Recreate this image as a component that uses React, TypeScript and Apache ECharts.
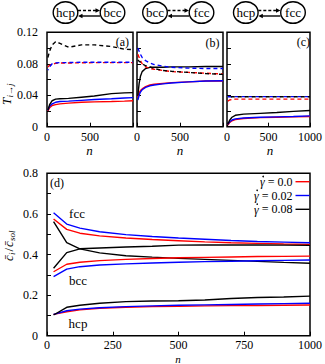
import React, { useEffect, useRef } from "react";
import * as echarts from "echarts";

const RED = "#ff0000";
const BLUE = "#0000ff";
const BLACK = "#000000";
const FONT = "Liberation Serif";

// ---------- panel (a): hcp <-> bcc ----------
const nA = [10, 30, 60, 100, 150, 250, 400, 550, 750, 900, 1000];
const aBlackDash = [0.088, 0.096, 0.104, 0.108, 0.106, 0.101, 0.104, 0.104, 0.102, 0.0985, 0.098];
const aBlueDash = [0.072, 0.076, 0.08, 0.081, 0.0815, 0.0815, 0.082, 0.082, 0.082, 0.082, 0.082];
const aRedDash = [0.076, 0.078, 0.0795, 0.0805, 0.081, 0.081, 0.0812, 0.0815, 0.0815, 0.0815, 0.0815];
const aBlack = [0.021, 0.028, 0.033, 0.035, 0.0355, 0.036, 0.0375, 0.039, 0.042, 0.043, 0.0433];
const aBlue = [0.021, 0.026, 0.029, 0.031, 0.032, 0.0325, 0.0335, 0.0345, 0.0355, 0.0365, 0.037];
const aRed = [0.02, 0.024, 0.027, 0.028, 0.029, 0.03, 0.031, 0.0315, 0.032, 0.0325, 0.033];

// ---------- panel (b): bcc <-> fcc ----------
const nB = [10, 25, 40, 60, 100, 150, 200, 300, 400, 600, 800, 1000];
const bBlueDash = [0.1, 0.096, 0.092, 0.088, 0.084, 0.081, 0.079, 0.077, 0.0755, 0.0745, 0.074, 0.074];
const bRedDash = [0.092, 0.088, 0.084, 0.08, 0.076, 0.074, 0.073, 0.0715, 0.07, 0.069, 0.068, 0.067];
const bBlackDash = [0.085, 0.083, 0.082, 0.08, 0.0775, 0.076, 0.074, 0.0715, 0.0705, 0.069, 0.0675, 0.0665];
const bBlack = [0.04, 0.055, 0.064, 0.07, 0.074, 0.0755, 0.0755, 0.0755, 0.076, 0.076, 0.0765, 0.0765];
const bBlue = [0.034, 0.04, 0.044, 0.047, 0.05, 0.052, 0.053, 0.0545, 0.0555, 0.057, 0.058, 0.0585];
const bRed = [0.037, 0.043, 0.046, 0.048, 0.051, 0.053, 0.054, 0.055, 0.056, 0.057, 0.058, 0.058];

// ---------- panel (c): hcp <-> fcc ----------
const nC = [10, 30, 60, 100, 200, 400, 600, 800, 1000];
const cBlueDash = [0.038, 0.038, 0.0382, 0.0382, 0.0382, 0.0382, 0.0382, 0.0382, 0.0382];
const cBlackDash = [0.037, 0.0375, 0.038, 0.038, 0.038, 0.038, 0.038, 0.038, 0.038];
const cRedDash = [0.0325, 0.034, 0.0345, 0.035, 0.035, 0.035, 0.035, 0.035, 0.035];
const cBlack = [0.003, 0.008, 0.012, 0.0145, 0.016, 0.017, 0.018, 0.0195, 0.0205];
const cBlue = [0.003, 0.006, 0.0085, 0.01, 0.011, 0.012, 0.0125, 0.013, 0.0138];
const cRed = [0.002, 0.005, 0.0075, 0.009, 0.0105, 0.0115, 0.012, 0.0125, 0.013];

// ---------- panel (d): concentrations ----------
const nD = [25, 75, 125, 200, 300, 400, 500, 600, 700, 800, 900, 1000];
const dFccBlue = [0.606, 0.55, 0.53, 0.512, 0.498, 0.489, 0.481, 0.475, 0.469, 0.464, 0.461, 0.458];
const dFccRed = [0.575, 0.524, 0.505, 0.492, 0.481, 0.474, 0.468, 0.462, 0.458, 0.455, 0.452, 0.45];
const dFccBlack = [0.562, 0.458, 0.428, 0.408, 0.394, 0.387, 0.381, 0.376, 0.371, 0.366, 0.361, 0.357];
const dBccBlack = [0.332, 0.409, 0.428, 0.432, 0.437, 0.441, 0.446, 0.447, 0.447, 0.447, 0.446, 0.445];
const dBccRed = [0.315, 0.352, 0.362, 0.37, 0.376, 0.38, 0.384, 0.386, 0.388, 0.39, 0.391, 0.392];
const dBccBlue = [0.291, 0.328, 0.34, 0.348, 0.354, 0.358, 0.362, 0.365, 0.367, 0.369, 0.371, 0.373];
const dHcpBlack = [0.102, 0.14, 0.15, 0.16, 0.168, 0.171, 0.172, 0.176, 0.183, 0.188, 0.191, 0.195];
const dHcpBlue = [0.105, 0.123, 0.131, 0.138, 0.143, 0.147, 0.15, 0.152, 0.154, 0.156, 0.158, 0.16];
const dHcpRed = [0.105, 0.118, 0.127, 0.135, 0.14, 0.143, 0.145, 0.147, 0.148, 0.149, 0.15, 0.151];

// legend: shear rates and their colours
const legendRates = ["0.0", "0.02", "0.08"];
const legendColors = [RED, BLUE, BLACK];

// transition diagrams above the three top panels
const diagrams = [
  { left: "hcp", right: "bcc", cx1: 65.5, cx2: 112.5 },
  { left: "bcc", right: "fcc", cx1: 155, cx2: 201.5 },
  { left: "hcp", right: "fcc", cx1: 245.8, cx2: 293 },
];

const mk = (ns: number[], vs: number[]) => ns.map((n, i) => [n, vs[i]]);

function ln(name: string, idx: number, ns: number[], vs: number[], color: string, dashed: boolean, offset = 0) {
  return {
    type: "line",
    name,
    xAxisIndex: idx,
    yAxisIndex: idx,
    data: mk(ns, vs),
    symbol: "none",
    showSymbol: false,
    silent: true,
    itemStyle: { color },
    lineStyle: { color, width: 1.4, type: dashed ? [4, 3] : "solid", dashOffset: offset },
  };
}

let measureCtx: CanvasRenderingContext2D | null = null;
function measure(text: string, font: string) {
  if (!measureCtx) measureCtx = document.createElement("canvas").getContext("2d");
  if (!measureCtx) return text.length * 6;
  measureCtx.font = font;
  return measureCtx.measureText(text).width;
}

function buildGraphics() {
  const g: any[] = [];
  const cy = 12.5;
  diagrams.forEach((d) => {
    [
      [d.cx1, d.left],
      [d.cx2, d.right],
    ].forEach(([cx, label]) => {
      g.push({
        type: "ellipse",
        shape: { cx, cy, rx: 12.3, ry: 10.8 },
        style: { fill: "#fff", stroke: BLACK, lineWidth: 1.4 },
      });
      g.push({
        type: "text",
        x: cx as number,
        y: cy,
        style: { text: label, font: `13px "${FONT}"`, fill: BLACK, align: "center", verticalAlign: "middle" },
      });
    });
    const x1 = d.cx1 + 12.5;
    const x2 = d.cx2 - 12.5;
    g.push({
      type: "line",
      shape: { x1, y1: 10.5, x2: x2 - 3, y2: 10.5 },
      style: { stroke: BLACK, lineWidth: 1.4, lineDash: [3, 2] },
    });
    g.push({
      type: "polygon",
      shape: { points: [[x2, 10.5], [x2 - 4.5, 8.3], [x2 - 4.5, 12.7]] },
      style: { fill: BLACK },
    });
    g.push({
      type: "line",
      shape: { x1: x1 + 3, y1: 16, x2, y2: 16 },
      style: { stroke: BLACK, lineWidth: 1.4 },
    });
    g.push({
      type: "polygon",
      shape: { points: [[x1, 16], [x1 + 4.5, 13.8], [x1 + 4.5, 18.2]] },
      style: { fill: BLACK },
    });
  });

  const txt = (text: string, x: number, y: number, size = 12, align = "center", italic = false) => ({
    type: "text",
    x,
    y,
    style: {
      text,
      font: `${italic ? "italic " : ""}${size}px "${FONT}"`,
      fill: BLACK,
      align,
      verticalAlign: "middle",
    },
    z: 100,
  });

  g.push(txt("(a)", 129, 41.7, 12, "right"));
  g.push(txt("(b)", 219.5, 42.5, 12, "right"));
  g.push(txt("(c)", 310, 41.7, 12, "right"));
  g.push(txt("(d)", 50, 183, 12, "left"));
  g.push(txt("fcc", 77, 213, 13));
  g.push(txt("bcc", 78, 280, 13));
  g.push(txt("hcp", 78, 323, 13));
  g.push(txt("n", 89.5, 150, 13, "center", true));
  g.push(txt("n", 180, 150, 13, "center", true));
  g.push(txt("n", 270, 150, 13, "center", true));
  g.push({
    type: "text",
    x: 178,
    y: 364,
    style: { text: "n", font: `italic 11px "${FONT}"`, fill: BLACK, align: "center", verticalAlign: "bottom" },
    z: 100,
  });

  // legend of panel (d): "γ̇ = value" followed by a line sample
  legendRates.forEach((rate, i) => {
    const y = 181.7 + 13.8 * i;
    const rest = ` = ${rate}`;
    const restFont = `12px "${FONT}"`;
    const gFont = `italic 12px "${FONT}"`;
    const textRight = 292.5;
    const restW = measure(rest, restFont);
    const gW = measure("γ", gFont);
    g.push({
      type: "text",
      x: textRight,
      y,
      style: { text: rest, font: restFont, fill: BLACK, align: "right", verticalAlign: "middle" },
    });
    g.push({
      type: "text",
      x: textRight - restW,
      y: y + 0.5,
      style: { text: "γ", font: gFont, fill: BLACK, align: "right", verticalAlign: "middle" },
    });
    g.push({
      type: "circle",
      shape: { cx: textRight - restW - gW / 2 + 0.8, cy: y - 5.2, r: 0.8 },
      style: { fill: BLACK },
    });
    g.push({
      type: "line",
      shape: { x1: 295.5, y1: y, x2: 309.5, y2: y },
      style: { stroke: legendColors[i], lineWidth: 1.4 },
    });
  });

  const rtxt = (text: string, x: number, y: number, size: number, italic = true) => ({
    type: "text",
    x,
    y,
    style: {
      text,
      font: `${italic ? "italic " : ""}${size}px "${FONT}"`,
      fill: BLACK,
      align: "left",
      verticalAlign: "middle",
    },
  });
  g.push({
    type: "group",
    x: 6,
    y: 94,
    rotation: Math.PI / 2,
    children: [rtxt("T", -11, 0, 13), rtxt("i→j", -3.5, 3.5, 9)],
  });
  g.push({
    type: "group",
    x: 8,
    y: 246,
    rotation: Math.PI / 2,
    children: [
      rtxt("c̄", -15, 0, 13),
      rtxt("i", -9, 3.5, 9),
      rtxt("/", -5.5, 0, 13, false),
      rtxt("c̄", -1, 0, 13),
      rtxt("sol", 5, 3.5, 9),
    ],
  });
  return g;
}

export default function App() {
  const ref = useRef<HTMLDivElement>(null);
  useEffect(() => {
    if (!ref.current) return;
    const chart = echarts.init(ref.current, undefined, { renderer: "svg" });
    const topGrid = (left: number) => ({
      left,
      top: 32.3,
      width: 86,
      height: 94.4,
      show: true,
      borderColor: BLACK,
      borderWidth: 1.5,
      backgroundColor: "transparent",
    });
    const labelStyle = { color: BLACK, fontFamily: FONT, fontSize: 12 };
    const tick = { show: true, inside: true, length: 4, lineStyle: { color: BLACK, width: 1 } };
    const topX = (showThousand: boolean, gi: number) => ({
      type: "value",
      gridIndex: gi,
      min: 0,
      max: 1000,
      interval: 500,
      axisLine: { show: false },
      axisTick: tick,
      splitLine: { show: false },
      axisLabel: {
        ...labelStyle,
        margin: 4,
        formatter: (v: number) => (v === 1000 && !showThousand ? "" : String(v)),
      },
    });
    const topY = (showLabels: boolean, gi: number) => ({
      type: "value",
      gridIndex: gi,
      min: 0,
      max: 0.12,
      interval: 0.02,
      axisLine: { show: false },
      axisTick: tick,
      splitLine: { show: false },
      axisLabel: {
        ...labelStyle,
        show: showLabels,
        margin: 9,
        formatter: (v: number) => {
          const k = Math.round(v / 0.02);
          if (k % 2 !== 0) return "";
          return k === 0 ? "0" : (k * 0.02).toFixed(2);
        },
      },
    });

    const option: any = {
      animation: false,
      textStyle: { fontFamily: FONT },
      grid: [
        topGrid(47),
        topGrid(137),
        topGrid(227),
        {
          left: 47,
          top: 173.3,
          width: 266,
          height: 162.4,
          show: true,
          borderColor: BLACK,
          borderWidth: 1.5,
          backgroundColor: "transparent",
        },
      ],
      xAxis: [
        topX(false, 0),
        topX(false, 1),
        topX(true, 2),
        {
          type: "value",
          gridIndex: 3,
          min: 0,
          max: 1000,
          interval: 250,
          axisLine: { show: false },
          axisTick: tick,
          splitLine: { show: false },
          axisLabel: { ...labelStyle, margin: 3, lineHeight: 12, formatter: (v: number) => String(v) },
        },
      ],
      yAxis: [
        topY(true, 0),
        topY(false, 1),
        topY(false, 2),
        {
          type: "value",
          gridIndex: 3,
          min: 0,
          max: 0.8,
          interval: 0.1,
          axisLine: { show: false },
          axisTick: tick,
          splitLine: { show: false },
          axisLabel: {
            ...labelStyle,
            margin: 9,
            formatter: (v: number) => {
              const k = Math.round(v * 10);
              if (k % 2 !== 0) return "";
              return k === 0 ? "0" : (k / 10).toFixed(1);
            },
          },
        },
      ],
      series: [
        // panel (d)
        ln("d-fcc-0.0", 3, nD, dFccRed, RED, false),
        ln("d-fcc-0.02", 3, nD, dFccBlue, BLUE, false),
        ln("d-fcc-0.08", 3, nD, dFccBlack, BLACK, false),
        ln("d-bcc-0.0", 3, nD, dBccRed, RED, false),
        ln("d-bcc-0.02", 3, nD, dBccBlue, BLUE, false),
        ln("d-bcc-0.08", 3, nD, dBccBlack, BLACK, false),
        ln("d-hcp-0.0", 3, nD, dHcpRed, RED, false),
        ln("d-hcp-0.02", 3, nD, dHcpBlue, BLUE, false),
        ln("d-hcp-0.08", 3, nD, dHcpBlack, BLACK, false),
        // panel (a)
        ln("a-red", 0, nA, aRed, RED, false),
        ln("a-blue", 0, nA, aBlue, BLUE, false),
        ln("a-black", 0, nA, aBlack, BLACK, false),
        ln("a-red-d", 0, nA, aRedDash, RED, true),
        ln("a-blue-d", 0, nA, aBlueDash, BLUE, true, 3),
        ln("a-black-d", 0, nA, aBlackDash, BLACK, true),
        // panel (b)
        ln("b-red", 1, nB, bRed, RED, false),
        ln("b-blue", 1, nB, bBlue, BLUE, false),
        ln("b-black", 1, nB, bBlack, BLACK, false),
        ln("b-red-d", 1, nB, bRedDash, RED, true),
        ln("b-blue-d", 1, nB, bBlueDash, BLUE, true),
        ln("b-black-d", 1, nB, bBlackDash, BLACK, true),
        // panel (c)
        ln("c-red", 2, nC, cRed, RED, false),
        ln("c-blue", 2, nC, cBlue, BLUE, false),
        ln("c-black", 2, nC, cBlack, BLACK, false),
        ln("c-red-d", 2, nC, cRedDash, RED, true),
        ln("c-blue-d", 2, nC, cBlueDash, BLUE, true),
        ln("c-black-d", 2, nC, cBlackDash, BLACK, true, 3.5),
      ],
      graphic: buildGraphics(),
    };
    chart.setOption(option);
    return () => chart.dispose();
  }, []);
  return (
    <div
      ref={ref}
      style={{ position: "fixed", left: 0, top: 0, width: 325, height: 364, background: "#fff" }}
    />
  );
}
